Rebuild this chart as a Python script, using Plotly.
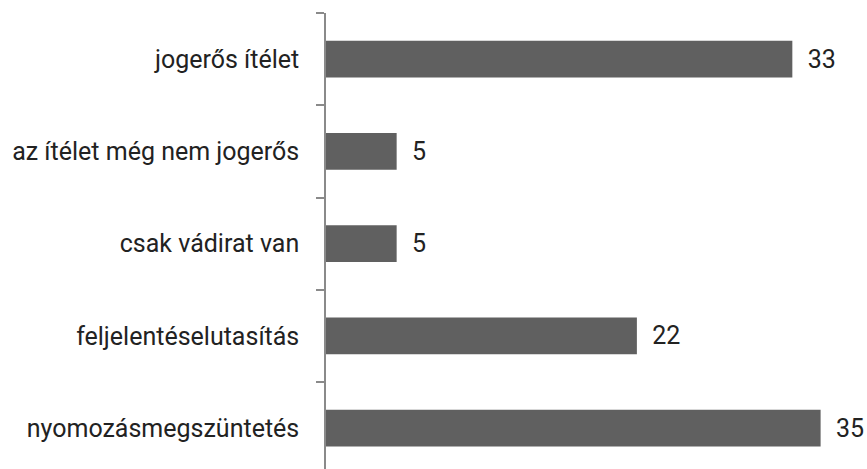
import plotly.graph_objs as go

# categories listed bottom to top, as plotly draws them
categories = ['nyomozásmegszüntetés', 'feljelentéselutasítás', 'csak vádirat van',
              'az ítélet még nem jogerős', 'jogerős ítélet']
counts = [35, 22, 5, 5, 33]

bar_color = '#606060'
axis_color = '#8a8a8a'
text_color = '#222222'
font_family = 'Roboto, sans-serif'
text_size = 25

fig = go.Figure()
fig.add_trace(go.Bar(
    x=counts,
    y=categories,
    orientation='h',
    marker=dict(color=bar_color, line=dict(width=0)),
    text=counts,
    texttemplate='\u00a0\u00a0%{text}',
    textposition='outside',
    cliponaxis=False,
    textfont=dict(family=font_family, size=text_size, color=text_color),
    hoverinfo='skip',
))

fig.update_layout(
    width=867,
    height=469,
    margin=dict(l=325.5, r=3.5, t=13, b=0, autoexpand=False),
    plot_bgcolor='white',
    paper_bgcolor='white',
    showlegend=False,
    bargap=0.6,
    font=dict(family=font_family, size=text_size, color=text_color),
)

fig.update_xaxes(
    range=[0, 38],
    showgrid=False,
    zeroline=False,
    showline=False,
    showticklabels=False,
    ticks='',
)

fig.update_yaxes(
    range=[-0.443, 4.5],
    showgrid=False,
    zeroline=False,
    showline=True,
    linecolor=axis_color,
    linewidth=1.5,
    ticks='outside',
    tickson='boundaries',
    ticklen=8,
    tickwidth=1.5,
    tickcolor=axis_color,
    ticklabelstandoff=20,
    tickfont=dict(family=font_family, size=text_size, color=text_color),
)

# drop the default body margin so the figure fills the window exactly
fig.write_html(
    "out.html",
    config={'displayModeBar': False},
    post_script="document.body.style.margin='0';document.body.style.overflow='hidden';",
)
